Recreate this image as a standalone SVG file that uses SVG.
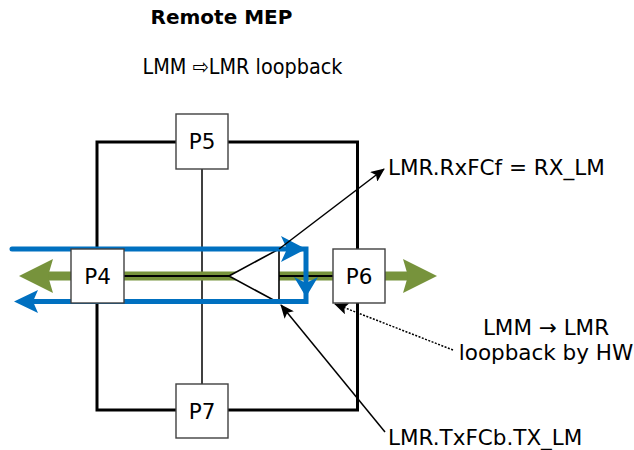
<svg xmlns="http://www.w3.org/2000/svg" width="634" height="450" viewBox="0 0 634 450">
<style>
  text { font-family: "DejaVu Sans", Verdana, sans-serif; fill: #000; }
  .lbl { font-size: 21.5px; }
  .port rect { fill: #fff; stroke: #404040; stroke-width: 1.4; }
  .port text { font-size: 21.5px; text-anchor: middle; }
  .blue { stroke: #0070C0; stroke-width: 5; fill: none; }
  .bluehead { fill: #0070C0; }
  .greenhead { fill: #77933C; }
  .lead { stroke: #000; stroke-width: 1.5; fill: none; }
</style>
<defs>
  <marker id="ah" markerWidth="14" markerHeight="12" refX="13" refY="6" orient="auto" markerUnits="userSpaceOnUse">
    <path d="M0,0 L14,6 L0,12 L3,6 Z" fill="#000"/>
  </marker>
</defs>

<rect id="frame" x="97" y="142" width="260.5" height="268" fill="none" stroke="#000" stroke-width="3"/>

<g id="connectors">
  <line x1="202" y1="169" x2="202" y2="384" stroke="#000" stroke-width="1.5"/>
  <line x1="48" y1="276" x2="408" y2="276" stroke="#77933C" stroke-width="9"/>
  <polygon class="greenhead" points="19,276 53,259 48,276 53,293"/>
  <polygon class="greenhead" points="437,276 403,259 408,276 403,293"/>
  <line x1="124" y1="276" x2="229" y2="276" stroke="#000" stroke-width="2"/>
  <line x1="279" y1="276" x2="333" y2="276" stroke="#000" stroke-width="2"/>
  <polygon id="tri" points="229,276 279,249 279,303" fill="#fff" stroke="#000" stroke-width="1.6"/>
  <path class="blue" d="M12,249 L306,249 L306,301.5 L34,301.5" stroke-linecap="round" stroke-linejoin="miter"/>
  <polygon class="bluehead" points="281,236 306,249 281,262 287,249"/>
  <polygon class="bluehead" points="294,277 306,297 318,277 306,283"/>
  <polygon class="bluehead" points="14,301.5 38,290 33,301.5 38,313"/>
  <line class="lead" x1="279" y1="249" x2="384" y2="169" marker-end="url(#ah)"/>
  <line class="lead" x1="385" y1="432" x2="281" y2="305" marker-end="url(#ah)"/>
  <line class="lead" x1="453" y1="350" x2="335" y2="304" stroke-width="1" stroke-dasharray="2,1.5" marker-end="url(#ah)"/>
</g>

<g id="P5" class="port"><rect x="176" y="114" width="52" height="55"/><text x="202" y="148.5">P5</text></g>
<g id="P4" class="port"><rect x="71" y="249" width="53" height="54"/><text x="97.5" y="283.5">P4</text></g>
<g id="P6" class="port"><rect x="333" y="249" width="52" height="54"/><text x="359" y="283.5">P6</text></g>
<g id="P7" class="port"><rect x="176" y="384" width="52" height="54"/><text x="202" y="418.5">P7</text></g>

<text x="221.5" y="23.5" font-size="20" font-weight="bold" text-anchor="middle">Remote MEP</text>
<text x="242.5" y="74" class="lbl" text-anchor="middle" textLength="200" lengthAdjust="spacingAndGlyphs">LMM ⇨LMR loopback</text>
<text x="388" y="174.5" class="lbl">LMR.RxFCf = RX_LM</text>
<text x="546" y="335" class="lbl" text-anchor="middle">LMM → LMR</text>
<text x="546" y="360" class="lbl" text-anchor="middle">loopback by HW</text>
<text x="388" y="444.5" class="lbl">LMR.TxFCb.TX_LM</text>
</svg>
